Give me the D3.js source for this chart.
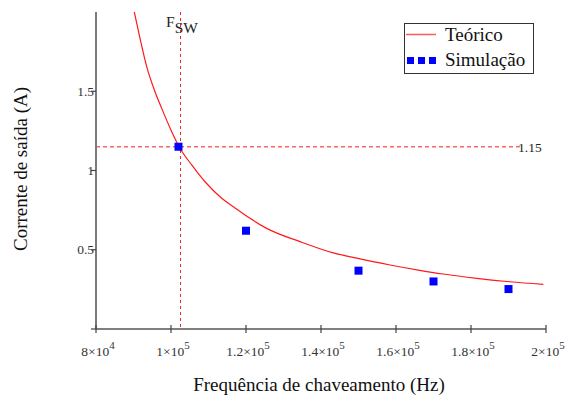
<!DOCTYPE html>
<html>
<head>
<meta charset="utf-8">
<script src="https://cdn.jsdelivr.net/npm/d3@7"></script>
<style>
  body { margin: 0; background: #fff; }
  svg text { font-family: "Liberation Serif", "Times New Roman", serif; }
</style>
</head>
<body>
<svg id="chart" width="571" height="399"></svg>
<script>
// curve (Hz, A)
const curveFreq = [90213, 91733, 93520, 95730, 97520, 100190, 102400, 105520, 109070, 113520,
                   116620, 121070, 125520, 134400, 143280, 149520, 158400, 165950, 172620,
                   181520, 190400, 199280]
const curveCurrent = [2.0, 1.834, 1.655, 1.497, 1.392, 1.245, 1.140, 1.035, 0.929, 0.825,
                      0.772, 0.698, 0.635, 0.551, 0.480, 0.447, 0.404, 0.372, 0.347,
                      0.320, 0.298, 0.282]

const simFreq = [102000, 120000, 150000, 170000, 190000]
const simCurrent = [1.15, 0.62, 0.368, 0.30, 0.252]

const xTicks = [80000, 100000, 120000, 140000, 160000, 180000, 200000]
const xTickMant = ["8", "1", "1.2", "1.4", "1.6", "1.8", "2"]
const xTickExp = ["4", "5", "5", "5", "5", "5", "5"]
const yTicks = [0, 0.5, 1, 1.5]
const yTickLabels = ["", "0.5", "1", "1.5"]

const fsw = 102400
const iMark = 1.15

const svg = d3.select("#chart")
const margin = {left: 96, right: 25, top: 12, bottom: 70}
const width = 571, height = 399

const x = d3.scaleLinear().domain([80000, 200000]).range([margin.left, width - margin.right])
const y = d3.scaleLinear().domain([0, 2]).range([height - margin.bottom, margin.top])

svg.append("defs").append("clipPath").attr("id", "plot")
    .append("rect")
    .attr("x", x(80000)).attr("y", y(2))
    .attr("width", x(200000) - x(80000)).attr("height", y(0) - y(2))

// marker lines
svg.append("line")
    .attr("x1", x(fsw) + 0.5).attr("x2", x(fsw) + 0.5)
    .attr("y1", y(2)).attr("y2", y(0))
    .attr("stroke", "#e8262b").attr("stroke-width", 1)
    .attr("stroke-dasharray", "3,3")
svg.append("line")
    .attr("x1", x(80000)).attr("x2", x(193000))
    .attr("y1", y(iMark)).attr("y2", y(iMark))
    .attr("stroke", "#f26a6a").attr("stroke-width", 1.5)
    .attr("stroke-dasharray", "4,3")

// axes
const axisColor = "#7a7a7a"
svg.append("line")
    .attr("x1", x(80000)).attr("x2", x(80000))
    .attr("y1", y(2)).attr("y2", y(0))
    .attr("stroke", axisColor).attr("stroke-width", 2)
svg.append("line")
    .attr("x1", x(80000)).attr("x2", x(200000))
    .attr("y1", y(0)).attr("y2", y(0))
    .attr("stroke", "#555").attr("stroke-width", 1.5)

svg.selectAll(".xtick").data(xTicks).enter().append("line")
    .attr("x1", d => x(d)).attr("x2", d => x(d))
    .attr("y1", y(0) - 4).attr("y2", y(0) + 4)
    .attr("stroke", "#444").attr("stroke-width", 1.2)
svg.selectAll(".ytick").data(yTicks).enter().append("line")
    .attr("x1", x(80000) - 5).attr("x2", x(80000))
    .attr("y1", d => y(d)).attr("y2", d => y(d))
    .attr("stroke", "#444").attr("stroke-width", 1.2)

xTicks.forEach(function (d, i) {
    let t = svg.append("text")
        .attr("x", x(d) + 2).attr("y", 356)
        .attr("text-anchor", "middle")
        .attr("font-size", 13.5)
        .attr("fill", "#333")
    t.append("tspan").text(xTickMant[i] + "\u00d710")
    t.append("tspan").attr("dy", -7).attr("font-size", 11).text(xTickExp[i])
})

svg.selectAll(".ylab").data(yTicks).enter().append("text")
    .attr("x", x(80000) - 2).attr("y", d => y(d) + 4.5)
    .attr("text-anchor", "end")
    .attr("font-size", 13.5)
    .attr("fill", "#333")
    .text((d, i) => yTickLabels[i])

// curve
const line = d3.line()
    .x((d, i) => x(curveFreq[i]))
    .y((d, i) => y(curveCurrent[i]))
    .curve(d3.curveMonotoneX)
svg.append("path")
    .datum(curveFreq)
    .attr("clip-path", "url(#plot)")
    .attr("d", line)
    .attr("fill", "none")
    .attr("stroke", "#ff1a1a")
    .attr("stroke-width", 1.2)

// simulation points
const sq = 8
svg.selectAll(".sim").data(simFreq).enter().append("rect")
    .attr("x", d => x(d) - sq / 2)
    .attr("y", (d, i) => y(simCurrent[i]) - sq / 2)
    .attr("width", sq).attr("height", sq)
    .attr("fill", "#0000ff")

// annotations
svg.append("text")
    .attr("x", 518).attr("y", 151.5)
    .attr("font-size", 13.5).attr("fill", "#222")
    .text("1.15")
let fl = svg.append("text")
    .attr("x", 166).attr("y", 27)
    .attr("font-size", 15.5).attr("fill", "#222")
fl.append("tspan").text("F")
fl.append("tspan").attr("dy", 6).text("SW")

// legend
const lg = svg.append("g")
lg.append("rect")
    .attr("x", 404.5).attr("y", 23.5).attr("width", 129).attr("height", 50)
    .attr("fill", "#fff").attr("stroke", "#333").attr("stroke-width", 1)
lg.append("line")
    .attr("x1", 406).attr("x2", 436).attr("y1", 34.5).attr("y2", 34.5)
    .attr("stroke", "#ff5a5a").attr("stroke-width", 1.5)
;[0, 1, 2].forEach(function (k) {
    lg.append("rect")
        .attr("x", 407 + k * 11).attr("y", 57).attr("width", 7).attr("height", 7)
        .attr("fill", "#0000ff")
})
lg.append("text").attr("x", 445).attr("y", 41).attr("font-size", 19).attr("fill", "#111").text("Teórico")
lg.append("text").attr("x", 445).attr("y", 66).attr("font-size", 19).attr("fill", "#111").text("Simulação")

// axis titles
svg.append("text")
    .attr("x", 319).attr("y", 391)
    .attr("text-anchor", "middle")
    .attr("font-size", 19).attr("fill", "#111")
    .text("Frequência de chaveamento (Hz)")
svg.append("text")
    .attr("transform", "translate(27,169) rotate(-90)")
    .attr("text-anchor", "middle")
    .attr("font-size", 19).attr("fill", "#111")
    .text("Corrente de saída (A)")
</script>
</body>
</html>
